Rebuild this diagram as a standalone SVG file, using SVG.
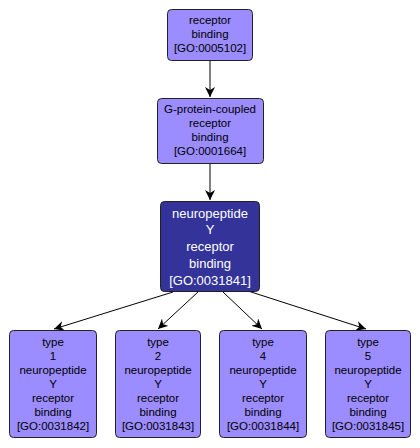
<svg xmlns="http://www.w3.org/2000/svg" width="420" height="448" viewBox="0 0 420 448">
<defs>
<marker id="ah" viewBox="0 0 10 10" refX="10" refY="5" markerWidth="10" markerHeight="10" markerUnits="userSpaceOnUse" orient="auto">
<path d="M0,0 L10,5 L0,10 L3,5 z" fill="#000"/>
</marker>
<style>
.n rect{fill:#9b8cff;stroke:#222;stroke-width:1}
.n text{font-family:"Liberation Sans",Arial,sans-serif;font-size:11.5px;fill:#000;text-anchor:middle}
.c rect{fill:#333399;stroke:#222;stroke-width:1}
.c text{font-family:"Liberation Sans",Arial,sans-serif;font-size:13px;fill:#fff;text-anchor:middle}
.e line{stroke:#000;stroke-width:1;marker-end:url(#ah)}
</style>
</defs>
<rect width="420" height="448" fill="#fff"/>
<g class="e" id="connectors">
<line x1="210" y1="61" x2="210" y2="97"/>
<line x1="210" y1="163" x2="210" y2="200"/>
<line x1="173" y1="292" x2="54" y2="329"/>
<line x1="198" y1="292" x2="158" y2="329"/>
<line x1="223" y1="292" x2="262" y2="329"/>
<line x1="248" y1="291" x2="366" y2="329"/>
</g>
<g class="n" id="GO0005102">
<rect x="167.5" y="9.5" width="85" height="51" rx="4"/>
<text x="210" y="24">receptor</text>
<text x="210" y="38">binding</text>
<text x="210" y="52">[GO:0005102]</text>
</g>
<g class="n" id="GO0001664">
<rect x="157.5" y="98.5" width="106" height="65" rx="4"/>
<text x="210" y="113">G-protein-coupled</text>
<text x="210" y="127">receptor</text>
<text x="210" y="141">binding</text>
<text x="210" y="155">[GO:0001664]</text>
</g>
<g class="c" id="GO0031841">
<rect x="160.5" y="201.5" width="99" height="90" rx="4"/>
<text x="210" y="218">neuropeptide</text>
<text x="210" y="234">Y</text>
<text x="210" y="251">receptor</text>
<text x="210" y="268">binding</text>
<text x="210" y="285">[GO:0031841]</text>
</g>
<g class="n" id="GO0031842">
<rect x="9.5" y="330.5" width="87" height="107" rx="4"/>
<text x="53" y="346">type</text>
<text x="53" y="360">1</text>
<text x="53" y="374">neuropeptide</text>
<text x="53" y="388">Y</text>
<text x="53" y="402">receptor</text>
<text x="53" y="416">binding</text>
<text x="53" y="430">[GO:0031842]</text>
</g>
<g class="n" id="GO0031843">
<rect x="115.5" y="330.5" width="85" height="107" rx="4"/>
<text x="158" y="346">type</text>
<text x="158" y="360">2</text>
<text x="158" y="374">neuropeptide</text>
<text x="158" y="388">Y</text>
<text x="158" y="402">receptor</text>
<text x="158" y="416">binding</text>
<text x="158" y="430">[GO:0031843]</text>
</g>
<g class="n" id="GO0031844">
<rect x="219.5" y="330.5" width="87" height="107" rx="4"/>
<text x="263" y="346">type</text>
<text x="263" y="360">4</text>
<text x="263" y="374">neuropeptide</text>
<text x="263" y="388">Y</text>
<text x="263" y="402">receptor</text>
<text x="263" y="416">binding</text>
<text x="263" y="430">[GO:0031844]</text>
</g>
<g class="n" id="GO0031845">
<rect x="325.5" y="330.5" width="85" height="107" rx="4"/>
<text x="368" y="346">type</text>
<text x="368" y="360">5</text>
<text x="368" y="374">neuropeptide</text>
<text x="368" y="388">Y</text>
<text x="368" y="402">receptor</text>
<text x="368" y="416">binding</text>
<text x="368" y="430">[GO:0031845]</text>
</g>
</svg>
